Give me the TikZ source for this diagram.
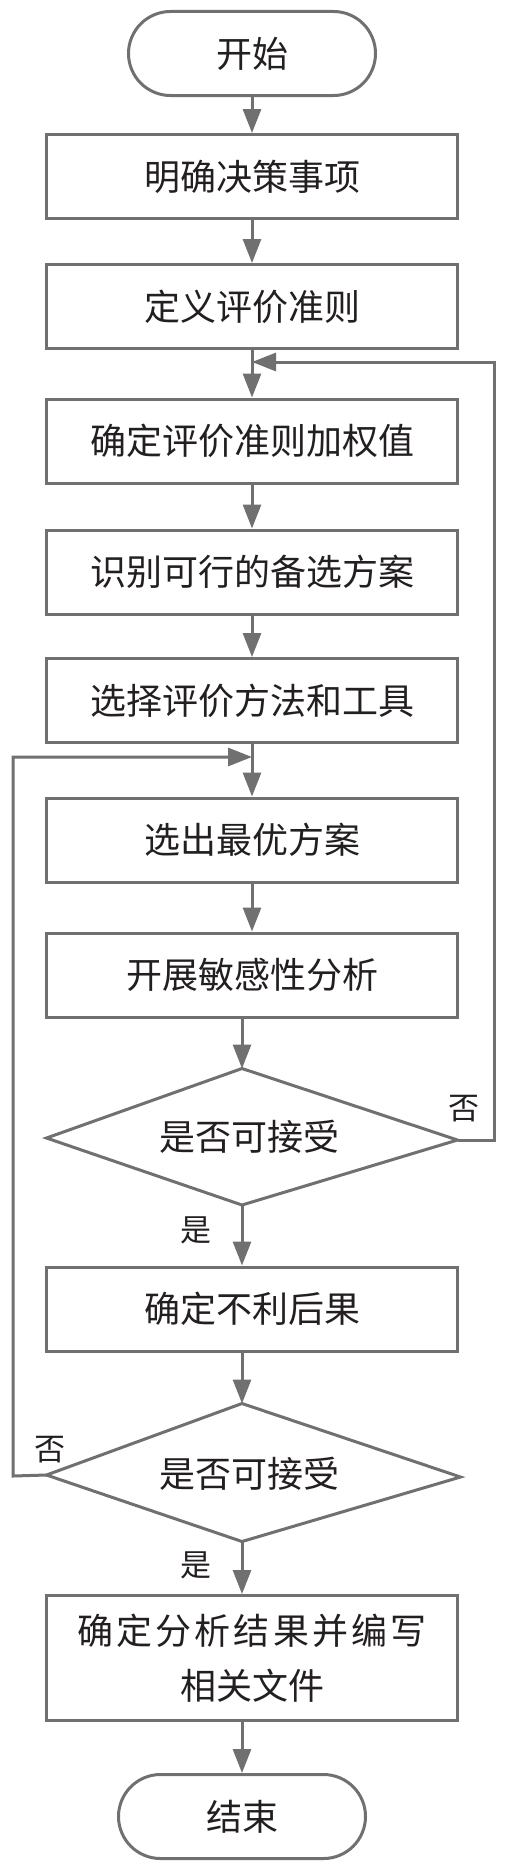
\documentclass[tikz,border=0pt]{standalone}
\usepackage{fontspec}
\setmainfont{Noto Sans CJK SC}
\usetikzlibrary{arrows.meta}
\definecolor{lnc}{HTML}{707070}
\definecolor{txc}{HTML}{231F20}
\begin{document}
\begin{tikzpicture}[x=1pt,y=-1pt,
  box/.style={draw=lnc, line width=3pt, minimum width=411pt, minimum height=84pt, inner sep=0pt, text=txc, font=\fontsize{36}{42}\selectfont, align=center},
  term/.style={box, rounded corners=42pt, minimum width=247pt},
  arr/.style={draw=lnc, line width=3pt, -{Triangle[length=24pt,width=18pt]}},
  lnst/.style={draw=lnc, line width=3pt},
  lab/.style={text=txc, font=\fontsize{31}{36}\selectfont, inner sep=0pt}]
\useasboundingbox (0,0) rectangle (506,1868);
\fill[white] (0,0) rectangle (506,1868);

\node[term] (s) at (252,53.5) {开始};
\node[box] (b1) at (252,176.5) {明确决策事项};
\node[box] (b2) at (252,306.5) {定义评价准则};
\node[box] (b3) at (252,441) {确定评价准则加权值};
\node[box] (b4) at (252,572) {识别可行的备选方案};
\node[box] (b5) at (252,700.5) {选择评价方法和工具};
\node[box] (b6) at (252,840) {选出最优方案};
\node[box] (b7) at (252,975) {开展敏感性分析};

% decision 1
\coordinate (d1t) at (242,1068.5);
\coordinate (d1r) at (457.5,1140);
\coordinate (d1b) at (242,1205);
\coordinate (d1l) at (46.5,1138);
\draw[lnst] (d1t) -- (d1r) -- (d1b) -- (d1l) -- cycle;
\node[lab, font=\fontsize{36}{42}\selectfont] (d1) at (249,1137) {是否可接受};

\node[box] (b8) at (252,1309) {确定不利后果};

% decision 2
\coordinate (d2t) at (242,1403.5);
\coordinate (d2r) at (460.5,1477);
\coordinate (d2b) at (242,1541.5);
\coordinate (d2l) at (46.5,1475);
\draw[lnst] (d2t) -- (d2r) -- (d2b) -- (d2l) -- cycle;
\node[lab, font=\fontsize{36}{42}\selectfont] (d2) at (249,1474) {是否可接受};

\node[box, minimum height=125pt, font=\fontsize{36}{55}\selectfont] (b9) at (252,1658) {{\addfontfeature{LetterSpace=9}确定分析结果并编写}\\相关文件};
\node[term] (e) at (242,1816.5) {结束};

% main flow
\draw[arr] (s.south) -- (b1.north);
\draw[arr] (b1.south) -- (b2.north);
\draw[arr] (b2.south) -- (b3.north);
\draw[arr] (b3.south) -- (b4.north);
\draw[arr] (b4.south) -- (b5.north);
\draw[arr] (b5.south) -- (b6.north);
\draw[arr] (b6.south) -- (b7.north);
\draw[arr] (b7.south -| d1t) -- (d1t);
\draw[arr] (d1b) -- (d1b |- b8.north);
\draw[arr] (b8.south -| d2t) -- (d2t);
\draw[arr] (d2b) -- (d2b |- b9.north);
\draw[arr] (b9.south -| e.north) -- (e.north);

% feedback loops
\coordinate (m1) at (252,362);
\coordinate (r1) at (494,1140);
\draw[arr] (d1r) -- (r1) |- (m1);
\coordinate (m2) at (252,757);
\coordinate (l2) at (13,1476);
\draw[arr] (d2l) -- (l2) |- (m2);

% labels
\node[lab] (n1) at (464,1109) {否};
\node[lab] (n2) at (50,1450) {否};
\node[lab] (y1) at (196,1230) {是};
\node[lab] (y2) at (196,1565) {是};
\end{tikzpicture}
\end{document}
